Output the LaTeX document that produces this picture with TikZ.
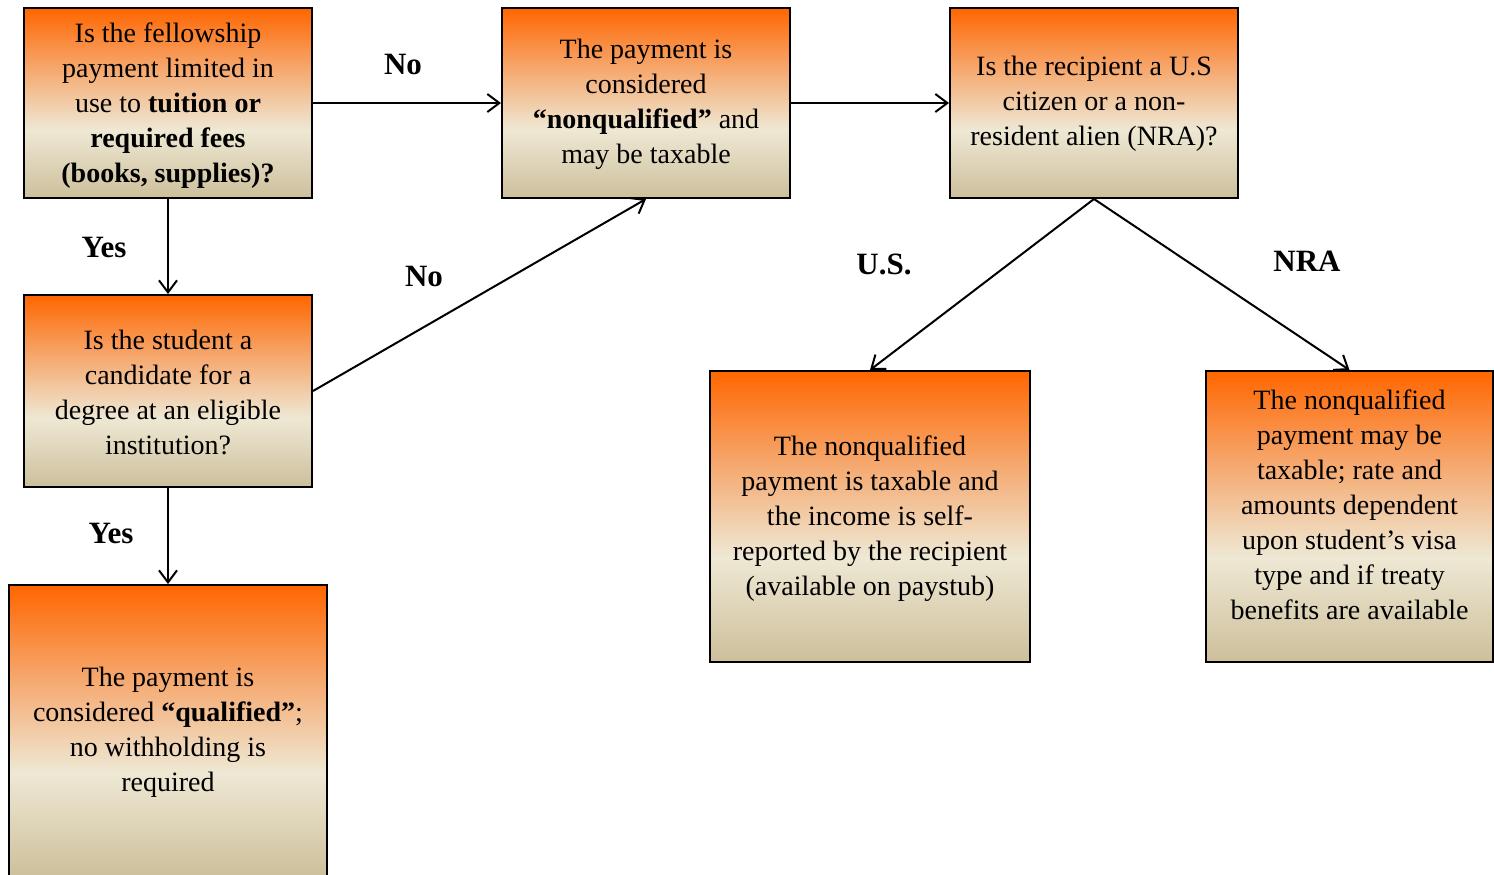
\documentclass[tikz,border=0pt]{standalone}
\usepackage{fontspec}
\setmainfont{Liberation Serif}
\usetikzlibrary{arrows.meta}
\definecolor{ortop}{HTML}{FF6600}
\definecolor{ormid}{HTML}{F6A468}
\definecolor{orlight}{HTML}{EEE8D4}
\definecolor{orbot}{HTML}{CDBF9B}
\pgfdeclareverticalshading{boxshade}{100bp}{color(0bp)=(orbot); color(25bp)=(orbot); color(43bp)=(orlight); color(60bp)=(ormid); color(75bp)=(ortop); color(100bp)=(ortop)}
\begin{document}
\begin{tikzpicture}[x=0.5pt,y=-0.5pt,
  box/.style={draw=black,line width=1pt,shading=boxshade,rectangle,inner sep=0pt},
  txt/.style={align=center,font=\fontsize{14}{17.5}\selectfont,inner sep=0pt},
  lbl/.style={font=\fontsize{15.5}{18}\selectfont\bfseries,inner sep=0pt},
  arr/.style={line width=1pt,-{Straight Barb[length=6pt,width=9pt]}}]
\useasboundingbox (0,0) rectangle (1494,874);
% boxes
\node[box,minimum width=144pt,minimum height=95pt] (b1) at (168,103) {};
\node[box,minimum width=144pt,minimum height=95pt] (b2) at (646,103) {};
\node[box,minimum width=144pt,minimum height=95pt] (b3) at (1094,103) {};
\node[box,minimum width=144pt,minimum height=96pt] (b4) at (168,391) {};
\node[box,minimum width=159pt,minimum height=146.5pt] (b5) at (168,731.5) {};
\node[box,minimum width=160pt,minimum height=145.5pt] (b6) at (870,516.5) {};
\node[box,minimum width=143.5pt,minimum height=145.5pt] (b7) at (1349.5,516.5) {};
% texts
\node[txt] (t1) at (168,106) {Is the fellowship\\payment limited in\\use to \textbf{tuition or}\\\textbf{required fees}\\\textbf{(books, supplies)?}};
\node[txt] (t2) at (646,104) {The payment is\\considered\\\textbf{“nonqualified”} and\\may be taxable};
\node[txt] (t3) at (1094,104) {Is the recipient a U.S\\citizen or a non-\\resident alien (NRA)?};
\node[txt] (t4) at (168,392) {Is the student a\\candidate for a\\degree at an eligible\\institution?};
\node[txt] (t5) at (168,732) {The payment is\\considered \textbf{“qualified”};\\no withholding is\\required};
\node[txt] (t6) at (870,519) {The nonqualified\\payment is taxable and\\the income is self-\\reported by the recipient\\(available on paystub)};
\node[txt] (t7) at (1349.5,505) {The nonqualified\\payment may be\\taxable; rate and\\amounts dependent\\upon student’s visa\\type and if treaty\\benefits are available};
% labels
\node[lbl] (l1) at (403,64) {No};
\node[lbl] (l2) at (104,247) {Yes};
\node[lbl] (l3) at (424,276) {No};
\node[lbl] (l4) at (111,533) {Yes};
\node[lbl] (l5) at (884,264) {U.S.};
\node[lbl] (l6) at (1307,261) {NRA};
% connectors
\draw[arr] (b1.east) -- (b2.west);
\draw[arr] (b2.east) -- (b3.west);
\draw[arr] (b1.south) -- (b4.north);
\draw[arr] (b4.south) -- (b5.north);
\draw[arr] (b4.east) -- (b2.south);
\draw[arr] (b3.south) -- (b6.north);
\draw[arr] (b3.south) -- (b7.north);
\end{tikzpicture}
\end{document}
